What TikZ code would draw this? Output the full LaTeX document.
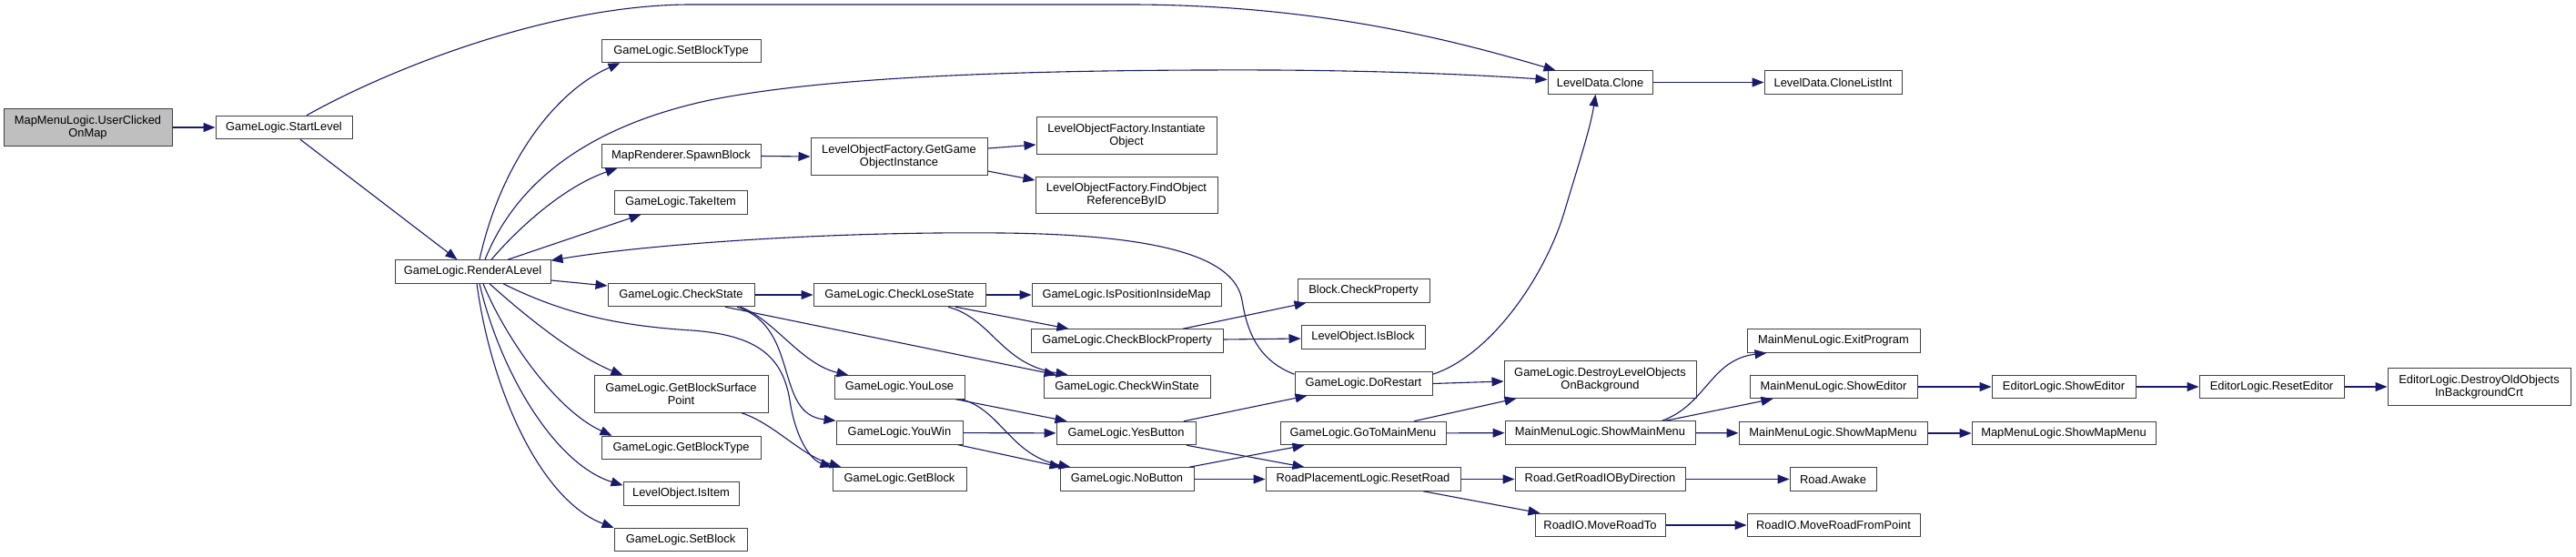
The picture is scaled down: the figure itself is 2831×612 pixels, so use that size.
\documentclass[tikz,border=0pt]{standalone}
\usepackage{fontspec}
\setmainfont{Liberation Sans}
\usetikzlibrary{arrows.meta}
\definecolor{edgecol}{HTML}{191970}
\definecolor{nodeborder}{HTML}{404040}
\definecolor{rootfill}{HTML}{BFBFBF}
\tikzset{
  fn/.style={draw=nodeborder, line width=1pt, fill=white, inner sep=0pt,
    minimum height=25.5pt, align=center, font=\fontsize{12.9}{14.3}\selectfont},
  fntwo/.style={fn, minimum height=40.5pt},
  edge/.style={draw=edgecol, line width=1.1pt, -{Triangle[length=13pt,width=10pt]}}
}
\begin{document}
\begin{tikzpicture}[x=1pt,y=-1pt]
\useasboundingbox[fill=white] (0,0) rectangle (2831,612);
% column 1-3
\node[fntwo, fill=rootfill, minimum width=185pt] (umap) at (96.5,140) {MapMenuLogic.UserClicked\\OnMap};
\node[fn, minimum width=150pt] (start) at (312,140) {GameLogic.StartLevel};
\node[fn, minimum width=171pt] (render) at (519.5,298.5) {GameLogic.RenderALevel};
% column 4
\node[fn, minimum width=175pt] (setbt) at (748.5,56) {GameLogic.SetBlockType};
\node[fn, minimum width=175pt] (spawn) at (748.5,171.5) {MapRenderer.SpawnBlock};
\node[fn, minimum width=146pt] (takeitem) at (748,222.5) {GameLogic.TakeItem};
\node[fn, minimum width=161pt] (checkstate) at (748.5,324) {GameLogic.CheckState};
\node[fntwo, minimum width=191pt] (gbsp) at (748.5,433) {GameLogic.GetBlockSurface\\Point};
\node[fn, minimum width=175pt] (getbt) at (748.5,492) {GameLogic.GetBlockType};
\node[fn, minimum width=127pt] (isitem) at (748.5,542.5) {LevelObject.IsItem};
\node[fn, minimum width=146pt] (setblock) at (748,593) {GameLogic.SetBlock};
% column 5
\node[fntwo, minimum width=194pt] (getgoi) at (988,172) {LevelObjectFactory.GetGame\\ObjectInstance};
\node[fn, minimum width=189pt] (checklose) at (988.5,324) {GameLogic.CheckLoseState};
\node[fn, minimum width=143pt] (youlose) at (988.5,425.5) {GameLogic.YouLose};
\node[fn, minimum width=139pt] (youwin) at (988.5,475.5) {GameLogic.YouWin};
\node[fn, minimum width=147pt] (getblock) at (988.5,526.5) {GameLogic.GetBlock};
% column 6
\node[fntwo, minimum width=198pt] (inst) at (1238,149) {LevelObjectFactory.Instantiate\\Object};
\node[fntwo, minimum width=200pt] (findobj) at (1238,214.5) {LevelObjectFactory.FindObject\\ReferenceByID};
\node[fn, minimum width=208pt] (isposinside) at (1238,324) {GameLogic.IsPositionInsideMap};
\node[fn, minimum width=211pt] (checkbp) at (1238.5,374.5) {GameLogic.CheckBlockProperty};
\node[fn, minimum width=183pt] (checkwin) at (1238.5,425) {GameLogic.CheckWinState};
\node[fn, minimum width=153pt] (yesbtn) at (1237.5,476) {GameLogic.YesButton};
\node[fn, minimum width=147pt] (nobtn) at (1238.5,526.5) {GameLogic.NoButton};
% column 7
\node[fn, minimum width=145pt] (blockcp) at (1498.5,319.5) {Block.CheckProperty};
\node[fn, minimum width=136pt] (isblock) at (1498,370.5) {LevelObject.IsBlock};
\node[fn, minimum width=151pt] (dorestart) at (1498.5,421.5) {GameLogic.DoRestart};
\node[fn, minimum width=182pt] (gotomain) at (1498,476) {GameLogic.GoToMainMenu};
\node[fn, minimum width=214pt] (resetroad) at (1498,526.5) {RoadPlacementLogic.ResetRoad};
% column 8
\node[fn, minimum width=115pt] (clone) at (1758.5,90.5) {LevelData.Clone};
\node[fntwo, minimum width=211pt] (destroylo) at (1758.5,417) {GameLogic.DestroyLevelObjects\\OnBackground};
\node[fn, minimum width=209pt] (showmain) at (1758.5,475.5) {MainMenuLogic.ShowMainMenu};
\node[fn, minimum width=187pt] (getroadio) at (1758.5,526.5) {Road.GetRoadIOByDirection};
\node[fn, minimum width=143pt] (moveroadto) at (1758.5,577) {RoadIO.MoveRoadTo};
% column 9
\node[fn, minimum width=151pt] (clonelist) at (2014.5,90.5) {LevelData.CloneListInt};
\node[fn, minimum width=190pt] (exitprog) at (2015,374.5) {MainMenuLogic.ExitProgram};
\node[fn, minimum width=184pt] (mmshoweditor) at (2015,425) {MainMenuLogic.ShowEditor};
\node[fn, minimum width=207pt] (mmshowmap) at (2014.5,476) {MainMenuLogic.ShowMapMenu};
\node[fn, minimum width=95pt] (awake) at (2014.5,526.5) {Road.Awake};
\node[fn, minimum width=190pt] (moveroadfp) at (2015,577) {RoadIO.MoveRoadFromPoint};
% columns 10-12
\node[fn, minimum width=158pt] (edshow) at (2268,425) {EditorLogic.ShowEditor};
\node[fn, minimum width=202pt] (mapshowmap) at (2268,476) {MapMenuLogic.ShowMapMenu};
\node[fn, minimum width=159pt] (edreset) at (2496.5,425) {EditorLogic.ResetEditor};
\node[fntwo, minimum width=201pt] (eddestroy) at (2724.5,425) {EditorLogic.DestroyOldObjects\\InBackgroundCrt};

% edges
\draw[edge] (umap) -- (start);
\draw[edge] ([xshift=25pt]start.north) .. controls (420,80) and (600,5) .. (760,5) -- (1240,5) .. controls (1450,5) and (1600,45) .. ([xshift=9pt]clone.north west);
\draw[edge] ([xshift=18pt]start.south) -- ([xshift=-17pt]render.north);
\draw[edge] ([xshift=7.5pt]render.north) .. controls (550,180) and (610,100) .. ([xshift=21pt]setbt.south west);
\draw[edge] ([xshift=13.5pt]render.north) .. controls (565,205) and (640,140) .. (780,110) .. controls (900,86) and (1100,76) .. (1400,77) .. controls (1550,78) and (1650,84) .. ([yshift=3pt]clone.west);
\draw[edge] ([xshift=20.5pt]render.north) .. controls (570,250) and (620,205) .. ([xshift=18pt]spawn.south west);
\draw[edge] ([xshift=38.5pt]render.north) -- ([xshift=30pt]takeitem.south west);
\draw[edge] ([yshift=-3pt]dorestart.north west) .. controls (1380,395) and (1370,360) .. (1365,330) .. controls (1358,290) and (1300,258) .. (1100,256) .. controls (900,254) and (700,270) .. ([yshift=-1pt]render.north east);
\draw[edge] ([yshift=-9.5pt]render.east) -- ([yshift=10pt]checkstate.west);
\draw[edge] ([xshift=33.5pt]render.south) .. controls (620,345) and (680,358) .. (760,363) .. controls (830,368) and (860,390) .. (868,440) .. controls (874,480) and (890,505) .. (getblock.north west);
\draw[edge] ([xshift=18.5pt]render.south) .. controls (575,345) and (630,390) .. ([xshift=32pt]gbsp.north west);
\draw[edge] ([xshift=11.5pt]render.south) .. controls (555,370) and (610,450) .. ([xshift=12pt]getbt.north west);
\draw[edge] ([xshift=7.5pt]render.south) .. controls (550,410) and (610,510) .. ([yshift=-4pt]isitem.north west);
\draw[edge] ([xshift=4.5pt]render.south) .. controls (540,430) and (595,550) .. (setblock.north west);
\draw[edge] (spawn.east) -- (getgoi.west);
\draw[edge] ([yshift=9pt]getgoi.east) -- ([yshift=-10pt]inst.west);
\draw[edge] ([yshift=-16pt]getgoi.east) -- ([yshift=16.5pt]findobj.west);
\draw[edge] (checkstate) -- (checklose);
\draw[edge] ([xshift=48.5pt]checkstate.south) -- ([xshift=14pt]checkwin.north west);
\draw[edge] ([xshift=65pt]checkstate.south) .. controls (850,350) and (880,400) .. ([xshift=16pt]youlose.north west);
\draw[edge] ([xshift=61.5pt]checkstate.south) .. controls (880,360) and (850,455) .. (youwin.north west);
\draw[edge] ([xshift=61.5pt]checklose.south) -- ([xshift=42pt]checkbp.north west);
\draw[edge] ([xshift=53.5pt]checklose.south) .. controls (1090,350) and (1100,400) .. ([xshift=27pt]checkwin.north west);
\draw[edge] (checklose) -- (isposinside);
\draw[edge] ([xshift=61.5pt]checkbp.north) -- ([xshift=10pt]blockcp.south west);
\draw[edge] ([yshift=1.5pt]checkbp.east) -- ([yshift=-1.5pt]isblock.west);
\draw[edge] ([xshift=66.5pt]gbsp.south) .. controls (850,465) and (880,500) .. ([xshift=10pt]getblock.north west);
\draw[edge] ([xshift=62pt]youlose.south) -- ([xshift=12pt]yesbtn.north west);
\draw[edge] ([xshift=68pt]youlose.south) .. controls (1100,450) and (1110,500) .. ([xshift=12pt]nobtn.north west);
\draw[edge] (youwin) -- (yesbtn);
\draw[edge] ([xshift=64.5pt]youwin.south) -- ([xshift=2pt]nobtn.north west);
\draw[edge] ([xshift=63.5pt]yesbtn.north) -- ([xshift=14pt]dorestart.south west);
\draw[edge] ([xshift=66.5pt]yesbtn.south) -- ([xshift=43pt]resetroad.north west);
\draw[edge] ([xshift=68.5pt]nobtn.north) -- ([xshift=27pt]gotomain.south west);
\draw[edge] (nobtn) -- (resetroad);
\draw[edge] ([yshift=-3pt]dorestart.north east) .. controls (1640,390) and (1700,300) .. (1720,230) .. controls (1735,180) and (1748,140) .. ([xshift=-5pt]clone.south);
\draw[edge] (dorestart.east) -- ([yshift=-2pt]destroylo.west);
\draw[edge] ([xshift=56pt]gotomain.north) -- ([xshift=14pt]destroylo.south west);
\draw[edge] (gotomain) -- (showmain);
\draw[edge] ([xshift=68pt]showmain.north) .. controls (1875,445) and (1880,395) .. ([xshift=22pt]exitprog.south west);
\draw[edge] ([xshift=72pt]showmain.north) -- ([xshift=26pt]mmshoweditor.south west);
\draw[edge] (showmain) -- (mmshowmap);
\draw[edge] (mmshoweditor) -- (edshow);
\draw[edge] (edshow) -- (edreset);
\draw[edge] (edreset) -- (eddestroy);
\draw[edge] (mmshowmap) -- (mapshowmap);
\draw[edge] (resetroad) -- (getroadio);
\draw[edge] (getroadio) -- (awake);
\draw[edge] ([xshift=66pt]resetroad.south) -- ([xshift=6pt]moveroadto.north west);
\draw[edge] (moveroadto) -- (moveroadfp);
\draw[edge] (clone) -- (clonelist);
\end{tikzpicture}
\end{document}
